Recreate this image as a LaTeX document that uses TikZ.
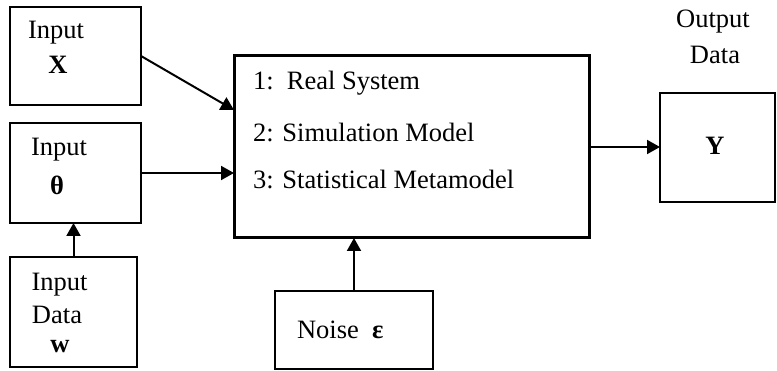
\documentclass[tikz,border=0pt]{standalone}
\usepackage{fontspec}
\setmainfont{Liberation Serif}
\usetikzlibrary{arrows.meta}
\tikzset{
  box/.style={draw, line width=2pt, inner sep=0pt, outer sep=0pt},
  mainbox/.style={draw, line width=3pt, inner sep=0pt, outer sep=0pt},
  txt/.style={inner sep=0pt, outer sep=0pt, font=\fontsize{26.5}{30}\selectfont},
  link/.style={line width=2pt, -{Triangle[length=13pt,width=14pt]}}
}
\begin{document}
\begin{tikzpicture}[x=1pt, y=-1pt]
\useasboundingbox (0,0) rectangle (777,371);

% boxes
\node[box, minimum width=131pt, minimum height=98pt] (inX) at (75.5,56) {};
\node[box, minimum width=131pt, minimum height=100pt] (inT) at (75.5,173) {};
\node[box, minimum width=127pt, minimum height=110pt] (inW) at (73.5,312) {};
\node[mainbox, minimum width=355pt, minimum height=182pt] (sys) at (411.5,147) {};
\node[box, minimum width=115pt, minimum height=109pt] (out) at (717.5,147.5) {};
\node[box, minimum width=158pt, minimum height=78pt] (noise) at (354,330) {};

% labels
\node[txt] (tXa) at (56,33) {Input};
\node[txt] (tXb) at (58,65) {\textbf{X}};
\node[txt] (tTa) at (59,150) {Input};
\node[txt] (tTb) at (57,185) {\textbf{θ}};
\node[txt] (tWa) at (59.5,285) {Input};
\node[txt] (tWb) at (57,315) {Data};
\node[txt] (tWc) at (60,347) {\textbf{w}};
\node[txt, anchor=west] (s1) at (253,83) {1:\ \ Real System};
\node[txt, anchor=west] (s2) at (253,132) {2: Simulation Model};
\node[txt, anchor=west] (s3) at (253,179) {3: Statistical Metamodel};
\node[txt] (tY) at (715,146) {\textbf{Y}};
\node[txt] (tOa) at (713,22) {Output};
\node[txt] (tOb) at (715,55) {Data};
\node[txt, anchor=west] (tN) at (297,330) {Noise\ \ \textbf{ε}};

% connectors
\coordinate (sysX) at ([yshift=37pt]sys.west);
\draw[link] (inX.east) -- (sysX);
\draw[link] (inT.east) -- (inT.east -| sys.west);
\draw[link] (inW.north) -- (inW.north |- inT.south);
\draw[link] (sys.east) -- (out.west |- sys.east);
\draw[link] (noise.north) -- (noise.north |- sys.south);
\end{tikzpicture}
\end{document}
